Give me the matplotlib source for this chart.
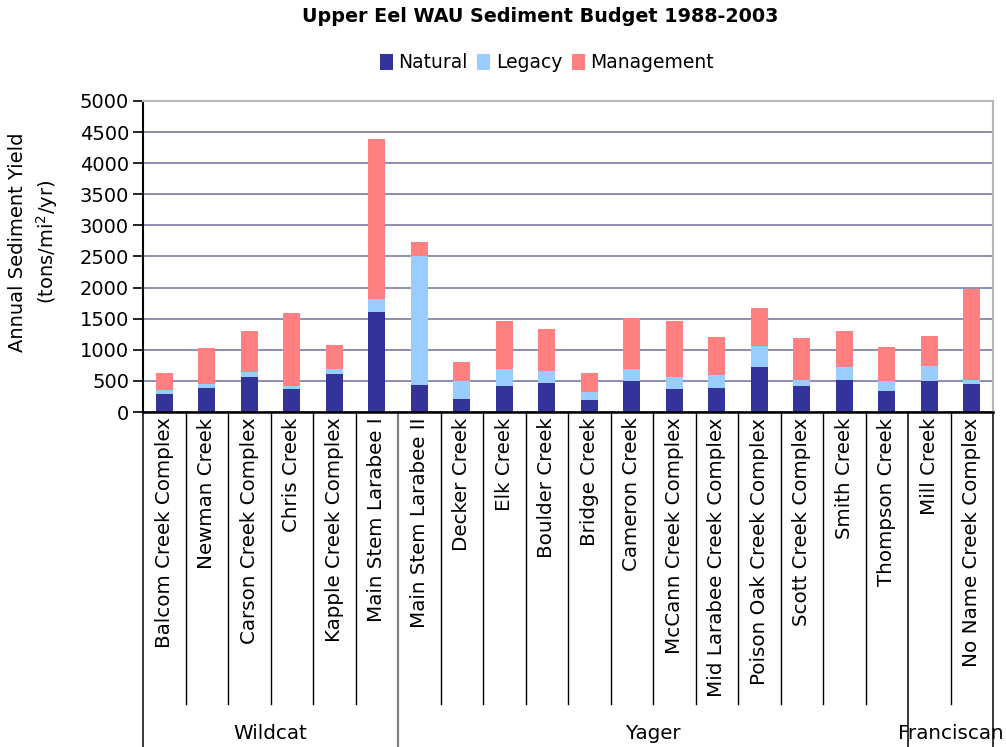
import matplotlib
matplotlib.use("Agg")
import matplotlib.pyplot as plt
from matplotlib.lines import Line2D
from matplotlib.patches import Patch

# Sub-watersheds, grouped by geologic terrane
creeks = ["Balcom Creek Complex", "Newman Creek", "Carson Creek Complex", "Chris Creek",
          "Kapple Creek Complex", "Main Stem Larabee I", "Main Stem Larabee II", "Decker Creek",
          "Elk Creek", "Boulder Creek", "Bridge Creek", "Cameron Creek", "McCann Creek Complex",
          "Mid Larabee Creek Complex", "Poison Oak Creek Complex", "Scott Creek Complex",
          "Smith Creek", "Thompson Creek", "Mill Creek", "No Name Creek Complex"]
groups = ["Wildcat", "Yager", "Franciscan"]
group_sizes = [6, 12, 2]

# Annual sediment yield components (tons/mi^2/yr)
natural = [290, 390, 565, 370, 615, 1600, 430, 205, 415, 460, 190, 495, 370, 390, 725, 420, 515, 340, 500, 455]
legacy = [65, 65, 80, 48, 81, 209, 2081, 291, 274, 194, 129, 193, 194, 210, 339, 97, 210, 161, 242, 64]
management = [274, 580, 661, 1178, 387, 2581, 226, 306, 774, 677, 307, 823, 900, 613, 612, 678, 580, 548, 484, 1452]

series = ["Natural", "Legacy", "Management"]
colors = ["#333399", "#99CCFF", "#FF8080"]

plt.rcParams["font.family"] = ["DejaVu Sans"]

W, H = 1006, 747
fig = plt.figure(figsize=(W / 100, H / 100), dpi=100)
ax_left, ax_right, ax_top, ax_bot = 143, 993, 101, 412
ax = fig.add_axes([ax_left / W, 1 - ax_bot / H, (ax_right - ax_left) / W, (ax_bot - ax_top) / H])

x = list(range(len(creeks)))
bottom = [0] * len(creeks)
for vals, col in zip([natural, legacy, management], colors):
    ax.bar(x, vals, width=0.4, bottom=bottom, color=col, zorder=3)
    bottom = [b + v for b, v in zip(bottom, vals)]

ax.set_xlim(-0.5, len(creeks) - 0.5)
ax.set_ylim(0, 5000)
ax.set_yticks(range(0, 5001, 500))
ax.tick_params(axis="y", labelsize=14, length=7, width=1.2, color="black", direction="out", pad=3)
ax.grid(axis="y", color="#8585ad", linewidth=1.3, zorder=0)

ax.set_xticks(x)
ax.set_xticklabels(creeks, rotation=90, fontsize=14.3, va="top", ha="center")
ax.tick_params(axis="x", length=0, pad=4)

for side in ["top", "right"]:
    ax.spines[side].set_color("#b8b8b8")
    ax.spines[side].set_linewidth(1.5)
ax.spines["left"].set_color("black")
ax.spines["left"].set_linewidth(1.5)
ax.spines["bottom"].set_color("black")
ax.spines["bottom"].set_linewidth(1.8)
ax.spines["bottom"].set_zorder(4)

ax.set_ylabel("Annual Sediment Yield\n(tons/mi$^2$/yr)", fontsize=14, linespacing=1.35)
ax.yaxis.set_label_coords(-(ax_left - 60) / (ax_right - ax_left), (ax_bot - 242) / (ax_bot - ax_top))

# Two-level category axis: creek separators and terrane separators
trans = ax.get_xaxis_transform()
short_y = (ax_bot - 704) / (ax_bot - ax_top)
long_y = (ax_bot - 747) / (ax_bot - ax_top)
group_edges = [-0.5]
for s in group_sizes:
    group_edges.append(group_edges[-1] + s)
for i in range(len(creeks) + 1):
    xb = i - 0.5
    if xb in group_edges:
        grey = group_edges.index(xb) == 1
        ax.add_line(Line2D([xb, xb], [0, long_y], transform=trans,
                           color="#808080" if grey else "black",
                           linewidth=1.6 if grey else 1.1, clip_on=False))
    else:
        ax.add_line(Line2D([xb, xb], [0, short_y], transform=trans, color="black",
                           linewidth=1.0, clip_on=False))

label_y = (ax_bot - 733) / (ax_bot - ax_top)
for g, a, b in zip(groups, group_edges[:-1], group_edges[1:]):
    ax.text((a + b) / 2, label_y, g, transform=trans, ha="center", va="center", fontsize=14.3)

fig.text(540 / W, 1 - 17 / H, "Upper Eel WAU Sediment Budget 1988-2003",
         ha="center", va="center", fontsize=13.8, fontweight="bold")

handles = [Patch(facecolor=c, edgecolor="none") for c in colors]
fig.legend(handles, series, loc="center", bbox_to_anchor=(547 / W, 1 - 63 / H), ncol=3,
           frameon=False, fontsize=13.5, handlelength=0.7, handleheight=0.9,
           handletextpad=0.3, columnspacing=0.5)

fig.savefig("out.png", dpi=100)
